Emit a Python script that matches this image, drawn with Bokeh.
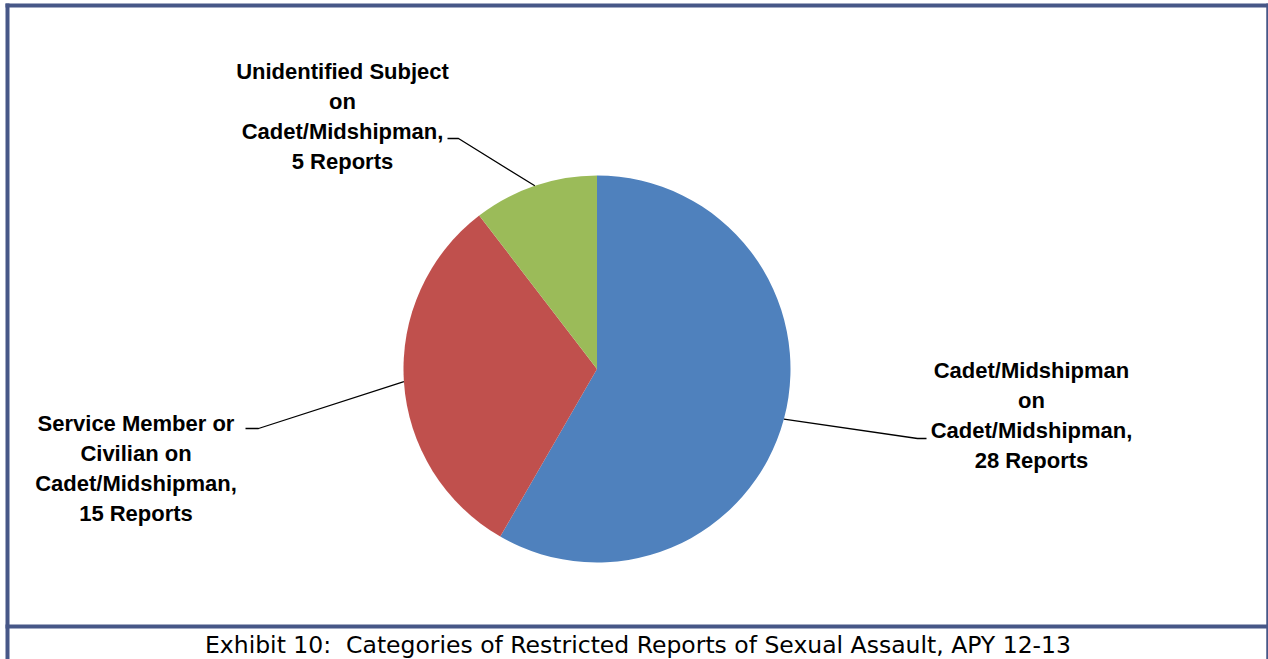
import numpy as np
from bokeh.plotting import figure
from bokeh.models import Range1d, ColumnDataSource
from bokeh.core.properties import value
from bokeh.embed import file_html
from bokeh.resources import INLINE

# ---- data ----
categories = ["Cadet/Midshipman\non\nCadet/Midshipman",
              "Service Member or\nCivilian on\nCadet/Midshipman",
              "Unidentified Subject\non\nCadet/Midshipman"]
reports = [28, 15, 5]
colors = ["#4F81BD", "#C0504D", "#9BBB59"]
caption = "Exhibit 10: \u00a0Categories of Restricted Reports of Sexual Assault, APY 12-13"

# ---- layout (page pixel coordinates) ----
W, H = 1268, 659


def px(x):
    return x


def py(y):
    return H - y  # data y from page y (y up)


cx, cy, R = 596.5, 368.5, 193.5
label_pos = [(1031, 414.5), (135.5, 468), (342, 115.5)]
elbow = [((917, 438), (926, 438)), ((258, 428), (245, 428)), ((458, 138), (447, 138))]
frame_color = "#475787"

p = figure(width=W, height=H, output_backend="svg", toolbar_location=None,
           x_range=Range1d(0, W), y_range=Range1d(0, H),
           min_border=0, outline_line_color=None, background_fill_color="white")
p.axis.visible = False
p.grid.visible = False

# ---- pie ----
vals = np.array(reports, dtype=float)
frac = vals / vals.sum()
cum_end = np.cumsum(frac)
cum_start = cum_end - frac
start = np.pi / 2 - 2 * np.pi * cum_start
end = np.pi / 2 - 2 * np.pi * cum_end
src = ColumnDataSource(dict(start=start, end=end, color=colors))
p.wedge(x=px(cx), y=py(cy), radius=R, start_angle="start", end_angle="end",
        direction="clock", fill_color="color", line_color=None, source=src)

# ---- leader lines ----
mid = 2 * np.pi * (cum_start + frac / 2)
xs, ys = [], []
for m, (e1, e2) in zip(mid, elbow):
    ax = cx + R * np.sin(m)
    ay = cy - R * np.cos(m)
    xs.append([px(ax), px(e1[0]), px(e2[0])])
    ys.append([py(ay), py(e1[1]), py(e2[1])])
p.multi_line(xs=xs, ys=ys, line_color="black", line_width=1.3)

# ---- labels ----
texts = [f"{c},\n{v} Reports" for c, v in zip(categories, reports)]
p.text(x=[px(a) for a, b in label_pos], y=[py(b) for a, b in label_pos], text=texts,
       text_font=value("Liberation Sans"), text_font_style="bold",
       text_font_size="22px", text_align="center", text_baseline="middle",
       text_line_height=1.2, text_color="black")

# ---- frame ----
fsrc = ColumnDataSource(dict(
    xs=[[px(7), px(7)], [px(1267), px(1267)], [px(5), px(1268)], [px(5), px(1268)]],
    ys=[[py(3), py(659)], [py(3), py(659)], [py(5), py(5)], [py(626), py(626)]],
    w=[4, 2.5, 4, 4]))
p.multi_line(xs="xs", ys="ys", line_color=frame_color, line_width="w", source=fsrc)

# ---- caption ----
p.text(x=[px(637.5)], y=[py(644)], text=[caption], text_font=value("DejaVu Sans"),
       text_font_size="23.5px", text_align="center", text_baseline="middle",
       text_color="black")

open("out.html", "w").write(file_html(p, INLINE))
